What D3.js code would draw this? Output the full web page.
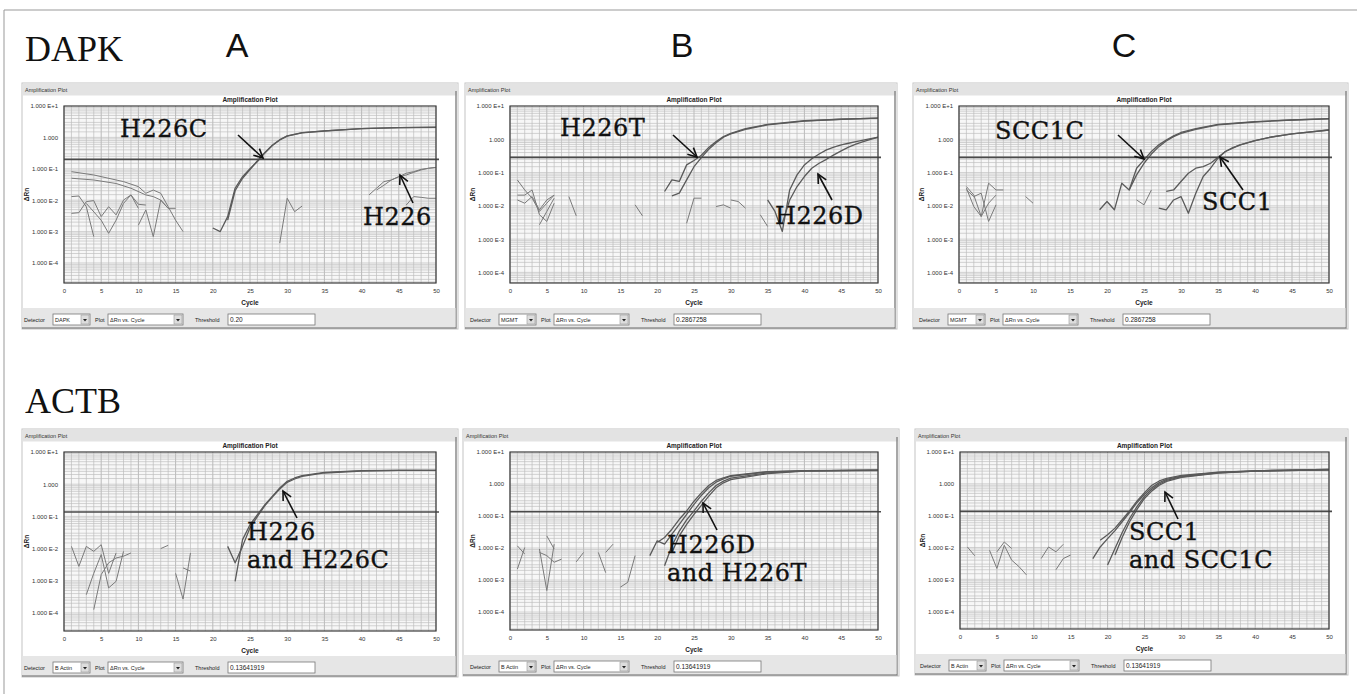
<!DOCTYPE html>
<html>
<head>
<meta charset="utf-8">
<script src="https://cdn.jsdelivr.net/npm/d3@7/dist/d3.min.js"></script>
<style>
  body { margin: 0; background: #fff; }
  svg { display: block; }
  .tick text { font-family: "Liberation Sans", Arial, sans-serif; font-size: 6px; fill: #333; }
</style>
</head>
<body>
<svg id="fig" width="1357" height="694"></svg>
<script>
"use strict";

// ---- data (cycle, delta Rn) ----
var xTicks = [0, 5, 10, 15, 20, 25, 30, 35, 40, 45, 50];
var yTickValues = [10, 1, 0.1, 0.01, 0.001, 0.0001];
var yTickLabels = ["1.000 E+1", "1.000", "1.000 E-1", "1.000 E-2", "1.000 E-3", "1.000 E-4"];

var rowLabels = ["DAPK", "ACTB"];
var colLabels = ["A", "B", "C"];
var detectors = ["DAPK", "MGMT", "MGMT", "B Actin", "B Actin", "B Actin"];
var thresholds = [0.20, 0.2867258, 0.2867258, 0.13641919, 0.13641919, 0.13641919];
var thresholdText = ["0.20", "0.2867258", "0.2867258", "0.13641919", "0.13641919", "0.13641919"];
var yMins = [2.3e-5, 4.8e-5, 4.8e-5, 2.75e-5, 2.75e-5, 2.75e-5];

var dapkA = [
    [[20, 1.3e-3], [21, 1.0e-3], [22, 3.0e-3], [23, 0.024], [24, 0.056], [25, 0.10], [26, 0.17], [27, 0.32], [28, 0.55], [29, 0.83], [30, 1.1], [32, 1.4], [35, 1.6], [40, 1.9], [45, 2.05], [50, 2.1]],
    [[22, 2.3e-3], [23, 0.02], [24, 0.05], [25, 0.095], [26, 0.18], [27, 0.33], [28, 0.56], [29, 0.84], [30, 1.12], [32, 1.42], [35, 1.62], [40, 1.9], [45, 2.05], [50, 2.12]],
    [[41, 0.0147], [42, 0.024], [43, 0.039], [44, 0.044], [45, 0.056], [46, 0.072], [47, 0.081], [48, 0.096], [49, 0.104], [50, 0.111]],
    [[42, 0.021], [43, 0.030], [44, 0.044], [45, 0.056], [46, 0.0635], [47, 0.077], [48, 0.092], [49, 0.104], [50, 0.111]],
    [[46, 0.007], [47, 0.013], [48, 0.0123], [49, 0.0115], [50, 0.0115]],
    [[1, 0.081], [4, 0.0635], [8, 0.039], [10, 0.027], [11, 0.0166], [12, 0.021], [13, 0.0166], [14, 0.0062], [15, 0.0023], [16, 0.001]],
    [[1, 0.05], [4, 0.044], [7, 0.034], [9, 0.024], [11, 0.0147], [12, 0.013], [13, 0.0101], [14, 0.0055], [15, 0.0055]],
    [[1, 0.013], [2, 0.0136], [3, 0.0062], [4, 0.00069]],
    [[1, 0.0038], [2, 0.004], [3, 0.009], [4, 0.0097], [5, 0.003], [6, 0.0062], [7, 0.0034], [8, 0.0101], [9, 0.0147], [10, 0.0055]],
    [[3, 0.0079], [5, 0.0023], [6, 0.00088], [7, 0.0023], [8, 0.0079], [9, 0.0147], [10, 0.0074], [11, 0.007]],
    [[10, 0.0016], [11, 0.0049], [12, 0.00069], [13, 0.0101], [14, 0.0055]],
    [[29, 0.00043], [30, 0.0115], [31, 0.0043], [32, 0.0065]]
];

var dapkB = [
    [[21, 0.027], [22, 0.06], [23, 0.054], [24, 0.17], [25, 0.23], [26, 0.33], [27, 0.57], [28, 0.85], [29, 1.2], [30, 1.5], [32, 2.1], [35, 2.8], [40, 3.6], [45, 4.0], [50, 4.3]],
    [[22, 0.02], [23, 0.024], [24, 0.06], [25, 0.15], [26, 0.28], [27, 0.5], [28, 0.79], [29, 1.15], [30, 1.45], [32, 2.0], [35, 2.7], [40, 3.5], [45, 4.0], [50, 4.3]],
    [[35, 0.015], [36, 0.0068], [37, 0.0017], [38, 0.03], [39, 0.085], [40, 0.17], [41, 0.26], [42, 0.36], [43, 0.48], [44, 0.58], [45, 0.68], [46, 0.76], [47, 0.85], [48, 0.95], [49, 1.05], [50, 1.15]],
    [[37, 0.003], [38, 0.015], [39, 0.038], [40, 0.076], [41, 0.135], [42, 0.19], [43, 0.25], [44, 0.34], [45, 0.45], [46, 0.58], [47, 0.71], [48, 0.85], [49, 1.0], [50, 1.15]],
    [[1, 0.06], [2, 0.03], [3, 0.017], [4, 0.0068], [5, 0.012], [6, 0.021]],
    [[1, 0.021], [2, 0.021], [3, 0.03], [4, 0.0054], [5, 0.0034], [6, 0.012]],
    [[1, 0.015], [2, 0.012], [3, 0.019], [4, 0.0076], [5, 0.015], [6, 0.021]],
    [[4, 0.0027], [5, 0.0068], [6, 0.017]],
    [[8, 0.019], [9, 0.005]],
    [[17, 0.0107], [18, 0.005]],
    [[24, 0.003], [25, 0.017], [26, 0.017]],
    [[28, 0.0095], [29, 0.0107], [30, 0.0085]],
    [[30, 0.015], [31, 0.0135], [32, 0.0085]],
    [[34, 0.0054], [35, 0.0024]]
];

var dapkC = [
    [[19, 0.0076], [20, 0.0135], [21, 0.0076], [22, 0.048], [23, 0.03], [24, 0.135], [25, 0.24], [26, 0.43], [27, 0.68], [28, 0.95], [29, 1.26], [30, 1.6], [32, 2.1], [35, 2.8], [40, 3.4], [45, 3.8], [50, 4.2]],
    [[23, 0.03], [24, 0.085], [25, 0.19], [26, 0.36], [27, 0.6], [28, 0.89], [29, 1.2], [30, 1.5], [32, 2.0], [35, 2.7], [40, 3.3], [45, 3.8], [50, 4.1]],
    [[28, 0.027], [29, 0.03], [30, 0.054], [31, 0.095], [32, 0.135], [33, 0.15], [34, 0.19], [35, 0.29], [36, 0.43], [37, 0.54], [38, 0.68], [40, 0.91], [42, 1.15], [45, 1.45], [50, 1.9]],
    [[27, 0.0085], [28, 0.0076], [29, 0.015], [30, 0.019], [31, 0.006], [32, 0.024], [33, 0.076], [34, 0.135], [35, 0.27], [36, 0.43], [37, 0.56], [38, 0.68], [40, 0.91], [42, 1.15], [45, 1.45], [50, 1.9]],
    [[24, 0.015], [25, 0.0107], [26, 0.03]],
    [[1, 0.034], [2, 0.0095], [3, 0.0048], [4, 0.048], [5, 0.03], [6, 0.03]],
    [[1, 0.03], [2, 0.019], [3, 0.024], [4, 0.0034], [5, 0.0107]],
    [[1, 0.038], [2, 0.021], [3, 0.0048], [4, 0.012], [5, 0.021]],
    [[9, 0.019], [10, 0.012]]
];

var actbA = [
    [[23, 0.00096], [24, 0.019], [25, 0.055], [26, 0.113], [27, 0.23], [28, 0.42], [29, 0.76], [30, 1.23], [31, 1.56], [32, 1.84], [35, 2.34], [40, 2.63], [45, 2.7], [50, 2.7]],
    [[22, 0.0117], [23, 0.0036], [24, 0.0117], [25, 0.044], [26, 0.10], [27, 0.215], [28, 0.40], [29, 0.71], [30, 1.14], [31, 1.45], [32, 1.75], [35, 2.23], [40, 2.57], [45, 2.7], [50, 2.7]],
    [[1, 0.0117], [2, 0.0028], [3, 0.0117], [4, 0.0082], [5, 0.0132], [6, 0.0017], [7, 0.0073]],
    [[3, 0.00037], [4, 0.0017], [5, 0.0065], [6, 0.0006], [7, 0.00096], [8, 0.0082]],
    [[4, 0.000127], [5, 0.00155], [6, 0.0036], [7, 0.0051], [8, 0.0058], [9, 0.0073]],
    [[13, 0.01], [14, 0.0126]],
    [[15, 0.0017], [16, 0.00027], [17, 0.0073]],
    [[16, 0.0025], [17, 0.002]]
];

var actbB = [
    [[20, 0.0149], [21, 0.0213], [22, 0.0387], [23, 0.079], [24, 0.144], [25, 0.29], [26, 0.53], [27, 0.90], [28, 1.29], [29, 1.56], [30, 1.84], [35, 2.45], [40, 2.63], [50, 2.7]],
    [[19, 0.0058], [20, 0.0168], [21, 0.0132], [22, 0.027], [23, 0.055], [24, 0.113], [25, 0.23], [26, 0.44], [27, 0.76], [28, 1.14], [29, 1.45], [30, 1.75], [35, 2.39], [40, 2.57], [50, 2.7]],
    [[21, 0.0028], [22, 0.0117], [23, 0.034], [24, 0.0755], [25, 0.144], [26, 0.29], [27, 0.53], [28, 0.90], [29, 1.23], [30, 1.52], [35, 2.23], [40, 2.57], [50, 2.7]],
    [[22, 0.0073], [23, 0.024], [24, 0.055], [25, 0.113], [26, 0.215], [27, 0.42], [28, 0.76], [29, 1.09], [30, 1.38], [35, 2.12], [40, 2.51], [50, 2.63]],
    [[1, 0.0022], [2, 0.0104]],
    [[1, 0.0117], [2, 0.0065]],
    [[4, 0.0093], [5, 0.00047], [6, 0.0132]],
    [[5, 0.024], [6, 0.0093]],
    [[4, 0.0073], [5, 0.0058], [6, 0.0036], [7, 0.0045]],
    [[9, 0.0037], [10, 0.0073]],
    [[12, 0.0073], [13, 0.0017]],
    [[13, 0.0073], [14, 0.0132]],
    [[15, 0.0006], [16, 0.00085], [17, 0.0058]]
];

var actbC = [
    [[19, 0.0168], [20, 0.0252], [21, 0.0406], [22, 0.0755], [23, 0.144], [24, 0.29], [25, 0.53], [26, 0.90], [27, 1.23], [28, 1.49], [30, 1.84], [35, 2.34], [40, 2.57], [50, 2.82]],
    [[18, 0.0045], [19, 0.0104], [20, 0.019], [21, 0.034], [22, 0.0655], [23, 0.128], [24, 0.26], [25, 0.47], [26, 0.76], [27, 1.09], [28, 1.38], [30, 1.75], [35, 2.28], [40, 2.57], [50, 2.82]],
    [[20, 0.0028], [21, 0.0093], [22, 0.030], [23, 0.083], [24, 0.196], [25, 0.40], [26, 0.68], [27, 0.99], [28, 1.29], [30, 1.67], [35, 2.23], [40, 2.51], [50, 2.76]],
    [[21, 0.0058], [22, 0.0213], [23, 0.0655], [24, 0.16], [25, 0.347], [26, 0.60], [27, 0.90], [28, 1.20], [30, 1.60], [35, 2.17], [40, 2.51], [50, 2.76]],
    [[1, 0.0104], [2, 0.0055]],
    [[4, 0.0082], [5, 0.0022], [6, 0.0117], [7, 0.004], [8, 0.0025], [9, 0.00138]],
    [[5, 0.0073], [6, 0.0149], [7, 0.0093]],
    [[11, 0.0045], [12, 0.0104], [13, 0.0073], [14, 0.0126]],
    [[13, 0.002], [14, 0.0045], [15, 0.0058]]
];

var panelData = [dapkA, dapkB, dapkC, actbA, actbB, actbC];

// annotation text and arrows, in pixels from the plot's top-left corner
var notes = [
    {lines: ["H226C"], tx: 56, ty: 31, arrow: [174, 29, 199, 52]},
    {lines: ["H226"], tx: 299, ty: 119, arrow: [349, 97, 336, 69]},
    {lines: ["H226T"], tx: 50, ty: 30, arrow: [163, 29, 187, 51]},
    {lines: ["H226D"], tx: 265, ty: 118, arrow: [322, 94, 308, 68]},
    {lines: ["SCC1C"], tx: 36, ty: 33, arrow: [159, 29, 185, 53]},
    {lines: ["SCC1"], tx: 243, ty: 104, arrow: [284, 84, 261, 51]},
    {lines: ["H226", "and H226C"], tx: 183, ty: 88, arrow: [233, 66, 219, 39]},
    {lines: ["H226D", "and H226T"], tx: 157, ty: 101, arrow: [207, 78, 193, 51]},
    {lines: ["SCC1", "and SCC1C"], tx: 169, ty: 88, arrow: [218, 67, 205, 40]}
];
var notePanel = [0, 0, 1, 1, 2, 2, 3, 4, 5];

// window and plot boxes
var boxes = [
    {x0: 22, x1: 458, top: 83, pl: 64, pr: 436, pt: 106, pb: 283},
    {x0: 465, x1: 897, top: 83, pl: 510, pr: 878, pt: 106, pb: 283},
    {x0: 913, x1: 1348, top: 83, pl: 959, pr: 1329, pt: 106, pb: 283},
    {x0: 22, x1: 458, top: 429, pl: 64, pr: 436, pt: 452, pb: 631},
    {x0: 463, x1: 899, top: 429, pl: 510, pr: 878, pt: 452, pb: 630},
    {x0: 915, x1: 1348, top: 429, pl: 960, pr: 1329, pt: 452, pb: 629}
];

var SANS = '"Liberation Sans", Arial, sans-serif';
var SERIF = '"DejaVu Serif", "Liberation Serif", serif';

var svg = d3.select('#fig');

svg.append('defs').append('marker')
    .attr('id', 'head')
    .attr('markerUnits', 'userSpaceOnUse')
    .attr('markerWidth', 12).attr('markerHeight', 12)
    .attr('refX', 10).attr('refY', 6)
    .attr('orient', 'auto')
    .append('path')
    .attr('d', 'M1,1.5 L10,6 L1,10.5')
    .attr('fill', 'none').attr('stroke', '#111').attr('stroke-width', 1.6);

// outer frame
svg.append('path')
    .attr('d', 'M4,694 L4,10 L1357,10')
    .attr('fill', 'none').attr('stroke', '#999').attr('stroke-width', 1);

svg.selectAll('text.row').data(rowLabels).enter().append('text')
    .attr('class', 'row')
    .attr('x', 25).attr('y', function (d, i) { return i === 0 ? 61 : 413; })
    .attr('font-family', '"Liberation Serif", "Times New Roman", serif')
    .attr('font-size', 36).attr('fill', '#111')
    .text(function (d) { return d; });

svg.selectAll('text.col').data(colLabels).enter().append('text')
    .attr('class', 'col')
    .attr('x', function (d, i) { return [237, 682, 1124][i]; }).attr('y', 57)
    .attr('text-anchor', 'middle')
    .attr('font-family', SANS).attr('font-size', 34).attr('fill', '#111')
    .text(function (d) { return d; });

function drawPanel(i) {
    var b = boxes[i],
        w = b.pr - b.pl,
        h = b.pb - b.pt,
        yMin = yMins[i];

    var x = d3.scaleLinear().domain([0, 50]).range([0, w]);
    var y = d3.scaleLog().domain([yMin, 10]).range([h, 0]);

    var win = svg.append('g');
    // window body
    win.append('rect')
        .attr('x', b.x0).attr('y', b.top)
        .attr('width', b.x1 - b.x0).attr('height', b.pb + 46 - b.top)
        .attr('fill', '#fff').attr('stroke', '#c4c4c4').attr('stroke-width', 1);
    win.append('rect')
        .attr('x', b.x0 + 0.5).attr('y', b.top + 0.5)
        .attr('width', b.x1 - b.x0 - 1).attr('height', 12)
        .attr('fill', '#e3e3e3');
    win.append('text')
        .attr('x', b.x0 + 3).attr('y', b.top + 8.5)
        .attr('font-family', SANS).attr('font-size', 5.5).attr('fill', '#333')
        .text('Amplification Plot');
    // right and bottom shadow edges
    win.append('path')
        .attr('d', 'M' + (b.x1 - 2) + ',' + (b.top + 8) + ' L' + (b.x1 - 2) + ',' + (b.pb + 45) + ' L' + b.x0 + ',' + (b.pb + 45))
        .attr('fill', 'none').attr('stroke', '#8a8a8a').attr('stroke-width', 1.5);

    // control bar
    var cy = b.pb + 37;
    win.append('rect')
        .attr('x', b.x0 + 0.5).attr('y', b.pb + 25)
        .attr('width', b.x1 - b.x0 - 3).attr('height', 19)
        .attr('fill', '#e6e6e6');
    var ctl = win.append('g').attr('font-family', SANS).attr('font-size', 5.5).attr('fill', '#222');
    ctl.append('text').attr('x', b.pl - 40).attr('y', cy + 2).text('Detector');
    ctl.append('text').attr('x', b.pl + 31).attr('y', cy + 2).text('Plot');
    ctl.append('text').attr('x', b.pl + 131).attr('y', cy + 2).text('Threshold');
    var fields = [
        {x: b.pl - 11, w: 37, txt: detectors[i], drop: true},
        {x: b.pl + 44, w: 75, txt: '\u0394Rn vs. Cycle', drop: true},
        {x: b.pl + 164, w: 87, txt: thresholdText[i], drop: false}
    ];
    fields.forEach(function (f) {
        win.append('rect')
            .attr('x', f.x).attr('y', cy - 6).attr('width', f.w).attr('height', 11)
            .attr('fill', '#fff').attr('stroke', '#777').attr('stroke-width', 0.8);
        win.append('text')
            .attr('x', f.x + 2).attr('y', cy + 2)
            .attr('font-family', SANS).attr('font-size', f.drop ? 5.5 : 6.5).attr('fill', '#222')
            .text(f.txt);
        if (f.drop) {
            win.append('rect')
                .attr('x', f.x + f.w - 9).attr('y', cy - 5).attr('width', 8).attr('height', 9)
                .attr('fill', '#ddd').attr('stroke', '#999').attr('stroke-width', 0.6);
            win.append('path')
                .attr('d', 'M' + (f.x + f.w - 7) + ',' + (cy - 1) + ' l4,0 l-2,2.5 z')
                .attr('fill', '#222');
        }
    });

    var g = svg.append('g').attr('transform', 'translate(' + b.pl + ',' + b.pt + ')');

    g.append('text')
        .attr('x', w / 2).attr('y', -4)
        .attr('text-anchor', 'middle')
        .attr('font-family', SANS).attr('font-size', 6.5).attr('font-weight', 'bold').attr('fill', '#222')
        .text('Amplification Plot');

    g.append('rect').attr('width', w).attr('height', h).attr('fill', '#f7f7f7');

    // grid: one line per cycle, minor lines inside each decade
    var cyc = d3.range(0, 51);
    g.append('g').selectAll('line').data(cyc).enter().append('line')
        .attr('x1', function (d) { return x(d); }).attr('x2', function (d) { return x(d); })
        .attr('y1', 0).attr('y2', h)
        .attr('stroke', function (d) { return d % 5 === 0 ? '#a0a0a0' : '#bdbdbd'; })
        .attr('stroke-width', 0.7);

    var minor = [];
    for (var e = -5; e <= 0; e++) {
        [1, 1.5, 2, 2.5, 3, 4, 5, 6, 7, 8, 9].forEach(function (k) {
            var v = k * Math.pow(10, e);
            if (v >= yMin && v <= 10) { minor.push(v); }
        });
    }
    g.append('g').selectAll('line').data(minor).enter().append('line')
        .attr('x1', 0).attr('x2', w)
        .attr('y1', function (d) { return y(d); }).attr('y2', function (d) { return y(d); })
        .attr('stroke', '#bcbcbc').attr('stroke-width', 0.65);

    var clipId = 'clip' + i;
    g.append('clipPath').attr('id', clipId).append('rect').attr('width', w).attr('height', h);

    var line = d3.line()
        .x(function (d) { return x(d[0]); })
        .y(function (d) { return y(d[1]); });

    g.append('g').attr('clip-path', 'url(#' + clipId + ')')
        .selectAll('path').data(panelData[i]).enter().append('path')
        .attr('d', line)
        .attr('fill', 'none')
        .attr('stroke', function (d) { return d3.max(d, function (p) { return p[1]; }) > 0.5 ? '#5a5a5a' : '#7a7a7a'; })
        .attr('stroke-width', function (d) { return d3.max(d, function (p) { return p[1]; }) > 0.5 ? 1.3 : 1; })
        .attr('stroke-linejoin', 'round');

    // threshold
    g.append('line')
        .attr('x1', 0).attr('x2', w + 3)
        .attr('y1', y(thresholds[i])).attr('y2', y(thresholds[i]))
        .attr('stroke', '#4a4a4a').attr('stroke-width', 1.6);

    g.append('rect').attr('width', w).attr('height', h)
        .attr('fill', 'none').attr('stroke', '#3c3c3c').attr('stroke-width', 1.2);

    var xAxis = d3.axisBottom(x).tickValues(xTicks).tickSize(0).tickPadding(6).tickFormat(d3.format('d'));
    g.append('g').attr('transform', 'translate(0,' + h + ')').call(xAxis)
        .call(function (s) { s.select('.domain').remove(); });

    var yAxis = d3.axisLeft(y).tickValues(yTickValues).tickSize(0).tickPadding(6)
        .tickFormat(function (d, k) { return yTickLabels[k]; });
    g.append('g').call(yAxis)
        .call(function (s) { s.select('.domain').remove(); });

    g.append('text')
        .attr('x', w / 2).attr('y', h + 22)
        .attr('text-anchor', 'middle')
        .attr('font-family', SANS).attr('font-size', 6.5).attr('font-weight', 'bold').attr('fill', '#222')
        .text('Cycle');

    g.append('text')
        .attr('transform', 'translate(-35,' + (h / 2) + ') rotate(-90)')
        .attr('text-anchor', 'middle')
        .attr('font-family', SANS).attr('font-size', 6.5).attr('font-weight', 'bold').attr('fill', '#222')
        .text('\u0394Rn');

    return g;
}

var plots = boxes.map(function (b, i) { return drawPanel(i); });

notes.forEach(function (n, k) {
    var g = plots[notePanel[k]];
    var t = g.append('text')
        .attr('font-family', SERIF).attr('font-size', 24).attr('fill', '#111')
        .attr('stroke', '#111').attr('stroke-width', 0.35)
        .attr('letter-spacing', 0.5);
    n.lines.forEach(function (s, j) {
        t.append('tspan').attr('x', n.tx).attr('y', n.ty + j * 28).text(s);
    });
    g.append('line')
        .attr('x1', n.arrow[0]).attr('y1', n.arrow[1])
        .attr('x2', n.arrow[2]).attr('y2', n.arrow[3])
        .attr('stroke', '#111').attr('stroke-width', 1.6)
        .attr('marker-end', 'url(#head)');
});
</script>
</body>
</html>
